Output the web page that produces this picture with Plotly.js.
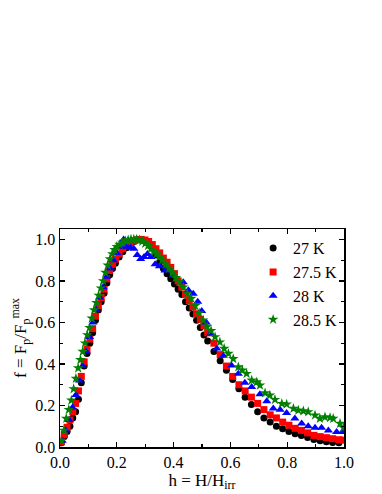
<!DOCTYPE html>
<html>
<head>
<meta charset="utf-8">
<script src="https://cdn.plot.ly/plotly-3.0.1.min.js"></script>
<style>html,body{margin:0;padding:0;background:#fff;}#chart{width:382px;height:494px;}</style>
</head>
<body>
<div id="chart"></div>
<script>
// Series names
const seriesNames = ["27 K", "27.5 K", "28 K", "28.5 K"];

// 27 K
const h27 = [0.005,0.015,0.025,0.035,0.045,0.055,0.065,0.075,0.085,0.095,0.105,0.115,0.125,0.135,0.145,0.155,0.165,0.175,0.185,0.195,
  0.208,0.221,0.234,0.247,0.26,0.273,0.286,0.299,0.312,0.325,0.338,0.351,0.364,0.377,0.39,0.403,0.416,0.429,0.442,0.455,0.468,0.481,0.494,0.507,
  0.52,0.542,0.564,0.586,0.608,0.63,0.652,0.674,0.696,0.718,0.74,0.762,0.784,0.806,0.828,0.85,0.872,0.894,0.916,0.938,0.96,0.982];
const f27 = [0.02,0.05,0.075,0.10,0.14,0.17,0.23,0.31,0.39,0.45,0.50,0.55,0.61,0.66,0.70,0.74,0.79,0.83,0.86,0.885,
  0.915,0.94,0.96,0.98,0.99,0.998,1.0,0.995,0.985,0.96,0.925,0.89,0.86,0.835,0.81,0.785,0.76,0.735,0.70,0.67,0.64,0.61,0.575,0.54,
  0.51,0.46,0.415,0.37,0.325,0.28,0.24,0.205,0.17,0.14,0.12,0.10,0.088,0.075,0.064,0.055,0.046,0.036,0.03,0.025,0.022,0.02];

// 27.5 K
const h275 = [0.005,0.015,0.025,0.035,0.045,0.055,0.065,0.075,0.085,0.095,0.105,0.115,0.125,0.135,0.145,0.155,0.165,0.175,0.185,0.195,
  0.208,0.221,0.234,0.247,0.26,0.273,0.286,0.299,0.312,0.325,0.338,0.351,0.364,0.377,0.39,0.403,0.416,0.429,0.442,0.455,0.468,0.481,0.494,0.507,
  0.52,0.542,0.564,0.586,0.608,0.63,0.652,0.674,0.696,0.718,0.74,0.762,0.784,0.806,0.828,0.85,0.872,0.894,0.916,0.938,0.96,0.982,0.998];
const f275 = [0.025,0.06,0.095,0.13,0.17,0.21,0.27,0.34,0.41,0.47,0.52,0.57,0.63,0.68,0.72,0.76,0.81,0.85,0.88,0.905,
  0.93,0.955,0.97,0.985,0.993,0.998,1.0,0.997,0.99,0.975,0.955,0.935,0.91,0.89,0.865,0.835,0.80,0.77,0.735,0.705,0.675,0.642,0.615,0.585,
  0.55,0.50,0.445,0.39,0.34,0.30,0.27,0.24,0.21,0.18,0.155,0.14,0.12,0.105,0.09,0.08,0.068,0.056,0.05,0.045,0.04,0.035,0.033];

// 28 K
const h28 = [0.008,0.02,0.032,0.044,0.056,0.068,0.08,0.092,0.104,0.116,0.128,0.14,0.152,0.164,0.176,0.188,0.2,0.212,0.224,0.236,
  0.248,0.26,0.272,0.284,0.296,0.308,0.32,0.335,0.35,0.37,0.40,0.434,0.452,0.469,0.485,0.499,0.515,0.53,0.552,0.575,
  0.604,0.628,0.651,0.675,0.704,0.728,0.751,0.775,0.798,0.827,0.851,0.874,0.898,0.921,0.945,0.974,0.994];
const f28 = [0.03,0.08,0.13,0.19,0.25,0.32,0.39,0.46,0.53,0.60,0.66,0.72,0.77,0.82,0.86,0.90,0.935,0.965,1.0,0.965,
  0.96,0.955,0.925,0.905,0.915,0.93,0.915,0.88,0.87,0.85,0.825,0.794,0.755,0.738,0.70,0.655,0.60,0.546,0.474,0.44,
  0.393,0.353,0.31,0.289,0.254,0.22,0.185,0.18,0.164,0.137,0.113,0.10,0.093,0.093,0.08,0.072,0.072];

// 28.5 K
const h285 = [0.005,0.014,0.022,0.031,0.04,0.048,0.056,0.064,0.072,0.08,0.088,0.096,0.104,0.112,0.12,0.128,0.136,0.144,0.152,0.16,
  0.168,0.176,0.184,0.192,0.2,0.21,0.22,0.23,0.24,0.25,0.26,0.27,0.28,0.29,0.3,0.31,0.32,0.33,0.34,0.35,0.36,0.372,0.384,0.396,0.408,0.42,
  0.434,0.448,0.462,0.476,0.49,0.504,0.518,0.532,0.546,0.563,0.578,0.593,0.61,0.628,0.642,0.657,0.675,0.693,0.704,0.722,0.739,0.757,0.781,
  0.798,0.822,0.839,0.857,0.874,0.898,0.915,0.933,0.951,0.962,0.986,0.998];
const f285 = [0.03,0.08,0.137,0.18,0.225,0.28,0.33,0.38,0.42,0.46,0.50,0.54,0.575,0.62,0.66,0.695,0.73,0.765,0.80,0.84,
  0.875,0.905,0.93,0.95,0.965,0.975,0.985,0.992,0.997,1.0,1.0,1.0,0.997,0.99,0.98,0.97,0.955,0.94,0.93,0.915,0.9,0.88,0.86,0.84,0.815,0.795,
  0.77,0.74,0.715,0.68,0.645,0.61,0.58,0.56,0.53,0.505,0.474,0.45,0.425,0.385,0.37,0.353,0.321,0.313,0.297,0.26,0.249,0.228,0.209,
  0.206,0.185,0.177,0.173,0.169,0.153,0.137,0.144,0.141,0.137,0.113,0.093];

const xTickVals = [0, 0.2, 0.4, 0.6, 0.8, 1.0];
const yTickVals = [0, 0.2, 0.4, 0.6, 0.8, 1.0];

const serif = "Liberation Serif";

const traces = [
  {x: h27, y: f27, name: seriesNames[0], mode: "markers", type: "scatter",
   marker: {symbol: "circle", size: 7, color: "#000000"}},
  {x: h275, y: f275, name: seriesNames[1], mode: "markers", type: "scatter",
   marker: {symbol: "square", size: 7, color: "#ff0000"}},
  {x: h28, y: f28, name: seriesNames[2], mode: "markers", type: "scatter",
   marker: {symbol: "triangle-up", size: 8, color: "#0000ff"}},
  {x: h285, y: f285, name: seriesNames[3], mode: "markers", type: "scatter",
   marker: {symbol: "star", size: 8, color: "#008000"}}
];

const axisCommon = {
  showgrid: false, zeroline: false, showline: true, linecolor: "#000", linewidth: 1.5,
  mirror: "allticks", ticks: "inside", ticklen: 5, tickwidth: 1.2, tickcolor: "#000",
  tickformat: ".1f", tickfont: {family: serif, size: 16, color: "#000"},
  minor: {ticks: "inside", ticklen: 3, tickwidth: 1.2, tickcolor: "#000", dtick: 0.1, showgrid: false}
};

const layout = {
  width: 382, height: 494,
  margin: {l: 60, r: 38, t: 229, b: 47},
  paper_bgcolor: "#fff", plot_bgcolor: "#fff",
  font: {family: serif, color: "#000"},
  showlegend: true,
  legend: {x: 0.68, y: 0.99, xanchor: "left", yanchor: "top", bgcolor: "rgba(0,0,0,0)",
           font: {family: serif, size: 16, color: "#000"}, tracegroupgap: 0},
  xaxis: Object.assign({}, axisCommon, {range: [0, 1.0], tickvals: xTickVals,
    title: {text: "h = H/H<sub>irr</sub>", font: {family: serif, size: 17, color: "#000"}, standoff: 3}}),
  yaxis: Object.assign({}, axisCommon, {range: [0, 1.05], tickvals: yTickVals,
    title: {text: "f = F<sub>p</sub>/F<sub>p</sub><sup>max</sup>", font: {family: serif, size: 17, color: "#000"}, standoff: 4}})
};

Plotly.newPlot("chart", traces, layout, {displayModeBar: false, staticPlot: true});
</script>
</body>
</html>
